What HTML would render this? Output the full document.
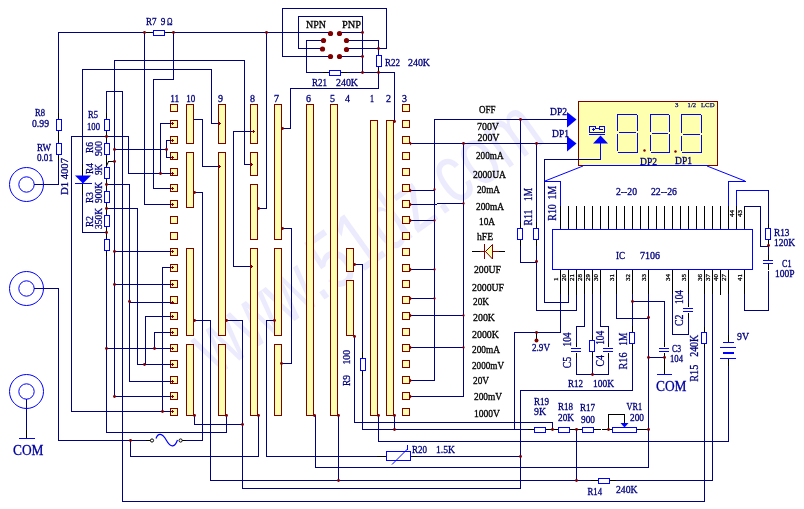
<!DOCTYPE html>
<html><head><meta charset="utf-8"><title>Digital multimeter 7106 schematic</title>
<style>
html,body{margin:0;padding:0;background:#fff;overflow:hidden}
svg{display:block;font-family:"Liberation Serif",serif;will-change:transform;-webkit-font-smoothing:antialiased}
</style></head><body>
<svg width="804" height="509" viewBox="0 0 804 509" shape-rendering="crispEdges">
<rect width="804" height="509" fill="#fff"/>
<text x="216" y="377" fill="#ecebfe" font-family="'Liberation Sans',sans-serif" font-size="84" transform="rotate(-35.5 216 377)" textLength="407" lengthAdjust="spacingAndGlyphs">www.51dz.com</text>
<rect x="58" y="32" width="87" height="1" fill="#000080"/>
<rect x="58" y="32" width="1" height="82" fill="#000080"/>
<rect x="58" y="113" width="1" height="48" fill="#000000"/>
<rect x="58" y="160" width="1" height="25" fill="#000080"/>
<rect x="34" y="184" width="25" height="1" fill="#000080"/>
<rect x="146" y="32" width="27" height="1" fill="#000000"/>
<rect x="173" y="32" width="158" height="1" fill="#000080"/>
<rect x="144" y="32" width="1" height="173" fill="#000080"/>
<rect x="144" y="204" width="27" height="1" fill="#000080"/>
<rect x="173" y="32" width="1" height="48" fill="#000080"/>
<rect x="153" y="79" width="21" height="1" fill="#000080"/>
<rect x="153" y="79" width="1" height="110" fill="#000080"/>
<rect x="153" y="188" width="18" height="1" fill="#000080"/>
<rect x="114" y="60" width="131" height="1" fill="#000080"/>
<rect x="114" y="60" width="1" height="337" fill="#000080"/>
<rect x="244" y="60" width="1" height="105" fill="#000080"/>
<rect x="244" y="164" width="9" height="1" fill="#000080"/>
<rect x="82" y="69" width="130" height="1" fill="#000080"/>
<rect x="82" y="69" width="1" height="96" fill="#000080"/>
<rect x="82" y="164" width="1" height="32" fill="#000000"/>
<rect x="82" y="195" width="1" height="38" fill="#000080"/>
<rect x="82" y="232" width="25" height="1" fill="#000080"/>
<rect x="211" y="69" width="1" height="55" fill="#000080"/>
<rect x="211" y="123" width="9" height="1" fill="#000080"/>
<rect x="106" y="91" width="17" height="1" fill="#000080"/>
<rect x="106" y="91" width="1" height="23" fill="#000080"/>
<rect x="106" y="113" width="1" height="144" fill="#000000"/>
<rect x="106" y="256" width="1" height="177" fill="#000080"/>
<rect x="122" y="91" width="1" height="411" fill="#000080"/>
<rect x="71" y="136" width="58" height="1" fill="#000080"/>
<rect x="71" y="136" width="1" height="276" fill="#000080"/>
<rect x="128" y="136" width="1" height="38" fill="#000080"/>
<rect x="128" y="173" width="43" height="1" fill="#000080"/>
<rect x="71" y="411" width="100" height="1" fill="#000080"/>
<rect x="160" y="123" width="1" height="51" fill="#000080"/>
<rect x="160" y="123" width="11" height="1" fill="#000080"/>
<rect x="114" y="149" width="53" height="1" fill="#000080"/>
<rect x="166" y="140" width="1" height="18" fill="#000080"/>
<rect x="166" y="140" width="5" height="1" fill="#000080"/>
<rect x="166" y="157" width="5" height="1" fill="#000080"/>
<rect x="108" y="161" width="7" height="1" fill="#000000"/>
<line x1="106.5" y1="166" x2="108.5" y2="161.5" stroke="#000000" stroke-width="1" shape-rendering="geometricPrecision"/>
<rect x="106" y="184" width="24" height="1" fill="#000080"/>
<rect x="129" y="184" width="1" height="198" fill="#000080"/>
<rect x="129" y="381" width="42" height="1" fill="#000080"/>
<rect x="129" y="302" width="42" height="1" fill="#000080"/>
<rect x="106" y="208" width="32" height="1" fill="#000080"/>
<rect x="137" y="208" width="1" height="157" fill="#000080"/>
<rect x="137" y="364" width="34" height="1" fill="#000080"/>
<rect x="145" y="316" width="1" height="49" fill="#000080"/>
<rect x="145" y="316" width="26" height="1" fill="#000080"/>
<rect x="154" y="332" width="17" height="1" fill="#000080"/>
<rect x="154" y="332" width="1" height="17" fill="#000080"/>
<rect x="106" y="348" width="65" height="1" fill="#000080"/>
<rect x="114" y="251" width="57" height="1" fill="#000080"/>
<rect x="114" y="284" width="57" height="1" fill="#000080"/>
<rect x="114" y="396" width="57" height="1" fill="#000080"/>
<rect x="162" y="267" width="1" height="145" fill="#000080"/>
<rect x="162" y="267" width="9" height="1" fill="#000080"/>
<rect x="34" y="288" width="25" height="1" fill="#000080"/>
<rect x="58" y="288" width="1" height="153" fill="#000080"/>
<rect x="58" y="440" width="89" height="1" fill="#000080"/>
<rect x="146" y="440" width="5" height="1" fill="#000000"/>
<rect x="182" y="440" width="5" height="1" fill="#000000"/>
<rect x="186" y="440" width="17" height="1" fill="#000080"/>
<rect x="26" y="399" width="1" height="32" fill="#000080"/>
<rect x="26" y="430" width="1" height="8" fill="#000000"/>
<rect x="19" y="438" width="16" height="1" fill="#0000ff"/>
<circle cx="26.5" cy="184.5" r="17" fill="none" stroke="#0000ff" shape-rendering="geometricPrecision"/>
<circle cx="26.5" cy="184.5" r="7.7" fill="none" stroke="#0000ff" shape-rendering="geometricPrecision"/>
<circle cx="26.5" cy="288.5" r="17" fill="none" stroke="#0000ff" shape-rendering="geometricPrecision"/>
<circle cx="26.5" cy="288.5" r="7.7" fill="none" stroke="#0000ff" shape-rendering="geometricPrecision"/>
<circle cx="26.5" cy="391.5" r="17" fill="none" stroke="#0000ff" shape-rendering="geometricPrecision"/>
<circle cx="26.5" cy="391.5" r="7.7" fill="none" stroke="#0000ff" shape-rendering="geometricPrecision"/>
<circle cx="152" cy="440.5" r="1.6" fill="#fff" stroke="#000000" shape-rendering="geometricPrecision"/>
<circle cx="180.6" cy="440.5" r="1.6" fill="#fff" stroke="#000000" shape-rendering="geometricPrecision"/>
<path d="M156,438.5 C158,433 162,432.5 166.5,440.5 S175,447 177.5,440" fill="none" stroke="#0000ff" stroke-width="1.2" shape-rendering="geometricPrecision"/>
<rect x="130" y="440" width="1" height="17" fill="#000080"/>
<rect x="130" y="456" width="129" height="1" fill="#000080"/>
<rect x="106" y="432" width="121" height="1" fill="#000080"/>
<rect x="122" y="501" width="583" height="1" fill="#000080"/>
<rect x="56.5" y="119.5" width="5" height="11" fill="#ffffff" stroke="#0000ff"/>
<rect x="56.5" y="143.5" width="5" height="11" fill="#ffffff" stroke="#0000ff"/>
<rect x="104.5" y="119.5" width="5" height="11" fill="#ffffff" stroke="#0000ff"/>
<rect x="104.5" y="143.5" width="5" height="11" fill="#ffffff" stroke="#0000ff"/>
<rect x="104.5" y="167.5" width="5" height="11" fill="#ffffff" stroke="#0000ff"/>
<rect x="104.5" y="191.5" width="5" height="11" fill="#ffffff" stroke="#0000ff"/>
<rect x="104.5" y="215.5" width="5" height="11" fill="#ffffff" stroke="#0000ff"/>
<rect x="104.5" y="239.5" width="5" height="11" fill="#ffffff" stroke="#0000ff"/>
<rect x="153.5" y="30.5" width="11" height="5" fill="#ffffff" stroke="#0000ff"/>
<polygon points="75,175.5 91,175.5 83,183.5" fill="#0000ff" shape-rendering="geometricPrecision"/>
<rect x="75" y="183" width="17" height="1" fill="#0000ff"/>
<rect x="170.5" y="104.5" width="7" height="7" fill="#ffffb0" stroke="#800000"/>
<rect x="402.5" y="104.5" width="7" height="7" fill="#ffffb0" stroke="#800000"/>
<rect x="170.5" y="120.5" width="7" height="7" fill="#ffffb0" stroke="#800000"/>
<rect x="402.5" y="120.5" width="7" height="7" fill="#ffffb0" stroke="#800000"/>
<rect x="170.5" y="136.5" width="7" height="7" fill="#ffffb0" stroke="#800000"/>
<rect x="402.5" y="136.5" width="7" height="7" fill="#ffffb0" stroke="#800000"/>
<rect x="170.5" y="152.5" width="7" height="7" fill="#ffffb0" stroke="#800000"/>
<rect x="402.5" y="152.5" width="7" height="7" fill="#ffffb0" stroke="#800000"/>
<rect x="170.5" y="168.5" width="7" height="7" fill="#ffffb0" stroke="#800000"/>
<rect x="402.5" y="168.5" width="7" height="7" fill="#ffffb0" stroke="#800000"/>
<rect x="170.5" y="184.5" width="7" height="7" fill="#ffffb0" stroke="#800000"/>
<rect x="402.5" y="184.5" width="7" height="7" fill="#ffffb0" stroke="#800000"/>
<rect x="170.5" y="200.5" width="7" height="7" fill="#ffffb0" stroke="#800000"/>
<rect x="402.5" y="200.5" width="7" height="7" fill="#ffffb0" stroke="#800000"/>
<rect x="170.5" y="216.5" width="7" height="7" fill="#ffffb0" stroke="#800000"/>
<rect x="402.5" y="216.5" width="7" height="7" fill="#ffffb0" stroke="#800000"/>
<rect x="170.5" y="232.5" width="7" height="7" fill="#ffffb0" stroke="#800000"/>
<rect x="402.5" y="232.5" width="7" height="7" fill="#ffffb0" stroke="#800000"/>
<rect x="170.5" y="248.5" width="7" height="7" fill="#ffffb0" stroke="#800000"/>
<rect x="402.5" y="248.5" width="7" height="7" fill="#ffffb0" stroke="#800000"/>
<rect x="170.5" y="264.5" width="7" height="7" fill="#ffffb0" stroke="#800000"/>
<rect x="402.5" y="264.5" width="7" height="7" fill="#ffffb0" stroke="#800000"/>
<rect x="170.5" y="280.5" width="7" height="7" fill="#ffffb0" stroke="#800000"/>
<rect x="402.5" y="280.5" width="7" height="7" fill="#ffffb0" stroke="#800000"/>
<rect x="170.5" y="296.5" width="7" height="7" fill="#ffffb0" stroke="#800000"/>
<rect x="402.5" y="296.5" width="7" height="7" fill="#ffffb0" stroke="#800000"/>
<rect x="170.5" y="312.5" width="7" height="7" fill="#ffffb0" stroke="#800000"/>
<rect x="402.5" y="312.5" width="7" height="7" fill="#ffffb0" stroke="#800000"/>
<rect x="170.5" y="328.5" width="7" height="7" fill="#ffffb0" stroke="#800000"/>
<rect x="402.5" y="328.5" width="7" height="7" fill="#ffffb0" stroke="#800000"/>
<rect x="170.5" y="344.5" width="7" height="7" fill="#ffffb0" stroke="#800000"/>
<rect x="402.5" y="344.5" width="7" height="7" fill="#ffffb0" stroke="#800000"/>
<rect x="170.5" y="360.5" width="7" height="7" fill="#ffffb0" stroke="#800000"/>
<rect x="402.5" y="360.5" width="7" height="7" fill="#ffffb0" stroke="#800000"/>
<rect x="170.5" y="376.5" width="7" height="7" fill="#ffffb0" stroke="#800000"/>
<rect x="402.5" y="376.5" width="7" height="7" fill="#ffffb0" stroke="#800000"/>
<rect x="170.5" y="392.5" width="7" height="7" fill="#ffffb0" stroke="#800000"/>
<rect x="402.5" y="392.5" width="7" height="7" fill="#ffffb0" stroke="#800000"/>
<rect x="170.5" y="408.5" width="7" height="7" fill="#ffffb0" stroke="#800000"/>
<rect x="402.5" y="408.5" width="7" height="7" fill="#ffffb0" stroke="#800000"/>
<rect x="186.5" y="104.5" width="7" height="39" fill="#ffffb0" stroke="#800000"/>
<rect x="186.5" y="152.5" width="7" height="55" fill="#ffffb0" stroke="#800000"/>
<rect x="186.5" y="248.5" width="7" height="87" fill="#ffffb0" stroke="#800000"/>
<rect x="186.5" y="344.5" width="7" height="71" fill="#ffffb0" stroke="#800000"/>
<rect x="218.5" y="104.5" width="7" height="39" fill="#ffffb0" stroke="#800000"/>
<rect x="218.5" y="152.5" width="7" height="183" fill="#ffffb0" stroke="#800000"/>
<rect x="218.5" y="344.5" width="7" height="71" fill="#ffffb0" stroke="#800000"/>
<rect x="250.5" y="104.5" width="7" height="39" fill="#ffffb0" stroke="#800000"/>
<rect x="250.5" y="152.5" width="7" height="23" fill="#ffffb0" stroke="#800000"/>
<rect x="250.5" y="184.5" width="7" height="55" fill="#ffffb0" stroke="#800000"/>
<rect x="250.5" y="248.5" width="7" height="167" fill="#ffffb0" stroke="#800000"/>
<rect x="274.5" y="104.5" width="7" height="135" fill="#ffffb0" stroke="#800000"/>
<rect x="274.5" y="248.5" width="7" height="87" fill="#ffffb0" stroke="#800000"/>
<rect x="274.5" y="344.5" width="7" height="71" fill="#ffffb0" stroke="#800000"/>
<rect x="306.5" y="104.5" width="7" height="311" fill="#ffffb0" stroke="#800000"/>
<rect x="330.5" y="104.5" width="7" height="311" fill="#ffffb0" stroke="#800000"/>
<rect x="346.5" y="248.5" width="7" height="23" fill="#ffffb0" stroke="#800000"/>
<rect x="346.5" y="280.5" width="7" height="55" fill="#ffffb0" stroke="#800000"/>
<rect x="370.5" y="120.5" width="7" height="295" fill="#ffffb0" stroke="#800000"/>
<rect x="386.5" y="120.5" width="7" height="295" fill="#ffffb0" stroke="#800000"/>
<rect x="194" y="119" width="9" height="1" fill="#000080"/>
<rect x="202" y="119" width="1" height="48" fill="#000080"/>
<rect x="202" y="166" width="17" height="1" fill="#000080"/>
<rect x="194" y="192" width="9" height="1" fill="#000080"/>
<rect x="202" y="192" width="1" height="249" fill="#000080"/>
<rect x="194" y="320" width="17" height="1" fill="#000080"/>
<rect x="210" y="320" width="1" height="161" fill="#000080"/>
<rect x="210" y="480" width="382" height="1" fill="#000080"/>
<rect x="194" y="415" width="1" height="10" fill="#000080"/>
<rect x="194" y="424" width="49" height="1" fill="#000080"/>
<rect x="226" y="320" width="17" height="1" fill="#000080"/>
<rect x="242" y="320" width="1" height="169" fill="#000080"/>
<rect x="242" y="488" width="279" height="1" fill="#000080"/>
<rect x="226" y="415" width="1" height="18" fill="#000080"/>
<rect x="233" y="131" width="20" height="1" fill="#000080"/>
<rect x="233" y="131" width="1" height="136" fill="#000080"/>
<rect x="233" y="266" width="20" height="1" fill="#000080"/>
<rect x="266" y="32" width="1" height="177" fill="#000080"/>
<rect x="258" y="208" width="9" height="1" fill="#000080"/>
<rect x="266" y="320" width="9" height="1" fill="#000080"/>
<rect x="266" y="320" width="1" height="137" fill="#000080"/>
<rect x="266" y="456" width="112" height="1" fill="#000080"/>
<rect x="282" y="128" width="9" height="1" fill="#000080"/>
<rect x="290" y="88" width="1" height="41" fill="#000080"/>
<rect x="290" y="88" width="89" height="1" fill="#000080"/>
<rect x="282" y="228" width="10" height="1" fill="#000080"/>
<rect x="291" y="228" width="1" height="136" fill="#000080"/>
<rect x="282" y="363" width="10" height="1" fill="#000080"/>
<rect x="258" y="415" width="1" height="42" fill="#000080"/>
<rect x="315" y="415" width="1" height="53" fill="#000080"/>
<rect x="315" y="467" width="334" height="1" fill="#000080"/>
<rect x="338" y="415" width="1" height="66" fill="#000080"/>
<rect x="354" y="264" width="9" height="1" fill="#000080"/>
<rect x="362" y="264" width="1" height="89" fill="#000080"/>
<rect x="362" y="352" width="1" height="25" fill="#000000"/>
<rect x="362" y="376" width="1" height="54" fill="#000080"/>
<rect x="362" y="429" width="167" height="1" fill="#000080"/>
<rect x="354" y="336" width="1" height="87" fill="#000080"/>
<rect x="354" y="422" width="199" height="1" fill="#000080"/>
<rect x="552" y="422" width="1" height="8" fill="#000080"/>
<rect x="378" y="415" width="1" height="27" fill="#000080"/>
<rect x="378" y="441" width="351" height="1" fill="#000080"/>
<rect x="394" y="415" width="1" height="15" fill="#000080"/>
<rect x="360.5" y="358.5" width="5" height="12" fill="#ffffff" stroke="#0000ff"/>
<rect x="282" y="56" width="49" height="1" fill="#000080"/>
<rect x="282" y="8" width="1" height="49" fill="#000080"/>
<rect x="282" y="8" width="105" height="1" fill="#000080"/>
<rect x="386" y="8" width="1" height="41" fill="#000080"/>
<rect x="346" y="48" width="41" height="1" fill="#000080"/>
<rect x="298" y="48" width="25" height="1" fill="#000080"/>
<rect x="298" y="16" width="1" height="33" fill="#000080"/>
<rect x="298" y="16" width="65" height="1" fill="#000080"/>
<rect x="362" y="16" width="1" height="57" fill="#000080"/>
<rect x="339" y="32" width="24" height="1" fill="#000080"/>
<rect x="339" y="56" width="24" height="1" fill="#000080"/>
<rect x="346" y="40" width="33" height="1" fill="#000080"/>
<rect x="378" y="40" width="1" height="16" fill="#000080"/>
<rect x="378" y="66" width="1" height="7" fill="#000000"/>
<rect x="378" y="72" width="1" height="17" fill="#000080"/>
<rect x="306" y="40" width="18" height="1" fill="#000080"/>
<rect x="306" y="40" width="1" height="33" fill="#000080"/>
<rect x="306" y="72" width="18" height="1" fill="#000080"/>
<rect x="323" y="72" width="24" height="1" fill="#000000"/>
<rect x="347" y="72" width="48" height="1" fill="#000080"/>
<rect x="394" y="72" width="1" height="50" fill="#000080"/>
<rect x="376.5" y="55.5" width="5" height="11" fill="#ffffff" stroke="#0000ff"/>
<rect x="329.5" y="70.5" width="11" height="5" fill="#ffffff" stroke="#0000ff"/>
<circle cx="330.5" cy="33.5" r="2.6" fill="#800000" shape-rendering="geometricPrecision"/>
<circle cx="339.5" cy="33.5" r="2.6" fill="#800000" shape-rendering="geometricPrecision"/>
<circle cx="323.5" cy="40.5" r="2.6" fill="#800000" shape-rendering="geometricPrecision"/>
<circle cx="346.5" cy="40.5" r="2.6" fill="#800000" shape-rendering="geometricPrecision"/>
<circle cx="322.5" cy="49.0" r="2.6" fill="#800000" shape-rendering="geometricPrecision"/>
<circle cx="346.5" cy="49.5" r="2.6" fill="#800000" shape-rendering="geometricPrecision"/>
<circle cx="330.5" cy="56.5" r="2.6" fill="#800000" shape-rendering="geometricPrecision"/>
<circle cx="339.5" cy="56.5" r="2.6" fill="#800000" shape-rendering="geometricPrecision"/>
<rect x="434" y="119" width="135" height="1" fill="#000080"/>
<rect x="434" y="119" width="1" height="262" fill="#000080"/>
<rect x="410" y="190" width="25" height="1" fill="#000080"/>
<rect x="410" y="220" width="25" height="1" fill="#000080"/>
<rect x="410" y="269" width="25" height="1" fill="#000080"/>
<rect x="410" y="298" width="25" height="1" fill="#000080"/>
<rect x="410" y="380" width="25" height="1" fill="#000080"/>
<rect x="410" y="143" width="159" height="1" fill="#000080"/>
<rect x="463" y="143" width="1" height="254" fill="#000080"/>
<rect x="410" y="315" width="54" height="1" fill="#000080"/>
<rect x="410" y="347" width="54" height="1" fill="#000080"/>
<rect x="410" y="396" width="54" height="1" fill="#000080"/>
<rect x="410" y="204" width="27" height="1" fill="#000080"/>
<rect x="437" y="203" width="27" height="1" fill="#000080"/>
<polygon points="567,112 576.5,119.5 567,127.5" fill="#0000ff" shape-rendering="geometricPrecision"/>
<polygon points="567,136 576.5,143.5 567,151.5" fill="#0000ff" shape-rendering="geometricPrecision"/>
<rect x="520" y="119" width="1" height="104" fill="#000080"/>
<rect x="520" y="222" width="1" height="25" fill="#000000"/>
<rect x="520" y="246" width="1" height="17" fill="#000080"/>
<rect x="520" y="262" width="17" height="1" fill="#000080"/>
<rect x="536" y="143" width="1" height="80" fill="#000080"/>
<rect x="536" y="222" width="1" height="25" fill="#000000"/>
<rect x="536" y="246" width="1" height="65" fill="#000080"/>
<rect x="536" y="310" width="41" height="1" fill="#000080"/>
<rect x="576" y="294" width="1" height="17" fill="#000080"/>
<rect x="517.5" y="228.5" width="5" height="11" fill="#ffffff" stroke="#0000ff"/>
<rect x="533.5" y="228.5" width="5" height="11" fill="#ffffff" stroke="#0000ff"/>
<rect x="544" y="159" width="1" height="144" fill="#000080"/>
<rect x="544" y="302" width="25" height="1" fill="#000080"/>
<rect x="568" y="294" width="1" height="9" fill="#000080"/>
<rect x="578.5" y="101.5" width="139" height="64" fill="#ffffb0" stroke="#800000"/>
<rect x="583" y="165" width="125" height="1" fill="#0000ff"/>
<line x1="583" y1="166" x2="545" y2="181" stroke="#0000ff" stroke-width="1" shape-rendering="geometricPrecision"/>
<line x1="707" y1="166" x2="745" y2="181" stroke="#0000ff" stroke-width="1" shape-rendering="geometricPrecision"/>
<rect x="545" y="181" width="16" height="1" fill="#0000ff"/>
<rect x="560" y="181" width="1" height="26" fill="#0000ff"/>
<rect x="728" y="181" width="18" height="1" fill="#0000ff"/>
<rect x="728" y="181" width="1" height="26" fill="#0000ff"/>
<rect x="617" y="114" width="20" height="1" fill="#0000ff"/>
<rect x="619" y="132" width="17" height="1" fill="#0000ff"/>
<rect x="618" y="152" width="20" height="1" fill="#0000ff"/>
<rect x="617" y="115" width="1" height="16" fill="#0000ff"/>
<rect x="617" y="134" width="1" height="17" fill="#0000ff"/>
<rect x="637" y="115" width="1" height="16" fill="#0000ff"/>
<rect x="637" y="133" width="1" height="19" fill="#0000ff"/>
<rect x="650" y="114" width="19" height="1" fill="#0000ff"/>
<rect x="652" y="133" width="16" height="1" fill="#0000ff"/>
<rect x="651" y="152" width="19" height="1" fill="#0000ff"/>
<rect x="650" y="115" width="1" height="17" fill="#0000ff"/>
<rect x="650" y="135" width="1" height="16" fill="#0000ff"/>
<rect x="669" y="115" width="1" height="17" fill="#0000ff"/>
<rect x="669" y="134" width="1" height="18" fill="#0000ff"/>
<rect x="681" y="114" width="20" height="1" fill="#0000ff"/>
<rect x="683" y="134" width="17" height="1" fill="#0000ff"/>
<rect x="682" y="152" width="20" height="1" fill="#0000ff"/>
<rect x="681" y="115" width="1" height="18" fill="#0000ff"/>
<rect x="681" y="136" width="1" height="15" fill="#0000ff"/>
<rect x="701" y="115" width="1" height="18" fill="#0000ff"/>
<rect x="701" y="135" width="1" height="17" fill="#0000ff"/>
<circle cx="644.5" cy="150.5" r="1.2" fill="#800000" shape-rendering="geometricPrecision"/>
<circle cx="675.5" cy="151.5" r="1.2" fill="#800000" shape-rendering="geometricPrecision"/>
<rect x="544" y="159" width="57" height="1" fill="#000080"/>
<rect x="600" y="143" width="1" height="17" fill="#0000ff"/>
<path d="M589.5,132.5 V126.5 H595.5 V128.5 H599.5 V126.5 H604.5 V132.5 Z" fill="none" stroke="#0000ff"/>
<rect x="592" y="129" width="3" height="1" fill="#0000ff"/>
<rect x="593" y="128" width="1" height="3" fill="#0000ff"/>
<rect x="599" y="129" width="4" height="1" fill="#0000ff"/>
<rect x="589" y="134" width="16" height="1" fill="#0000ff"/>
<polygon points="593,143.5 608,143.5 600.5,135.5" fill="#0000ff" shape-rendering="geometricPrecision"/>
<rect x="552.5" y="229.5" width="200" height="40" fill="#fff" stroke="#0000ff" stroke-width="1.2"/>
<rect x="560" y="206" width="1" height="23" fill="#000000"/>
<rect x="568" y="206" width="1" height="23" fill="#000000"/>
<rect x="576" y="206" width="1" height="23" fill="#000000"/>
<rect x="584" y="206" width="1" height="23" fill="#000000"/>
<rect x="592" y="206" width="1" height="23" fill="#000000"/>
<rect x="600" y="206" width="1" height="23" fill="#000000"/>
<rect x="608" y="206" width="1" height="23" fill="#000000"/>
<rect x="616" y="206" width="1" height="23" fill="#000000"/>
<rect x="624" y="206" width="1" height="23" fill="#000000"/>
<rect x="632" y="206" width="1" height="23" fill="#000000"/>
<rect x="640" y="206" width="1" height="23" fill="#000000"/>
<rect x="648" y="206" width="1" height="23" fill="#000000"/>
<rect x="656" y="206" width="1" height="23" fill="#000000"/>
<rect x="664" y="206" width="1" height="23" fill="#000000"/>
<rect x="672" y="206" width="1" height="23" fill="#000000"/>
<rect x="680" y="206" width="1" height="23" fill="#000000"/>
<rect x="688" y="206" width="1" height="23" fill="#000000"/>
<rect x="696" y="206" width="1" height="23" fill="#000000"/>
<rect x="704" y="206" width="1" height="23" fill="#000000"/>
<rect x="712" y="206" width="1" height="23" fill="#000000"/>
<rect x="720" y="206" width="1" height="23" fill="#000000"/>
<rect x="728" y="206" width="1" height="23" fill="#000000"/>
<rect x="736" y="206" width="1" height="23" fill="#000000"/>
<rect x="744" y="206" width="1" height="23" fill="#000000"/>
<rect x="560" y="270" width="1" height="25" fill="#000000"/>
<rect x="568" y="270" width="1" height="25" fill="#000000"/>
<rect x="576" y="270" width="1" height="25" fill="#000000"/>
<rect x="584" y="270" width="1" height="25" fill="#000000"/>
<rect x="592" y="270" width="1" height="25" fill="#000000"/>
<rect x="600" y="270" width="1" height="25" fill="#000000"/>
<rect x="616" y="270" width="1" height="25" fill="#000000"/>
<rect x="632" y="270" width="1" height="25" fill="#000000"/>
<rect x="648" y="270" width="1" height="25" fill="#000000"/>
<rect x="672" y="270" width="1" height="25" fill="#000000"/>
<rect x="688" y="270" width="1" height="25" fill="#000000"/>
<rect x="704" y="270" width="1" height="25" fill="#000000"/>
<rect x="712" y="270" width="1" height="25" fill="#000000"/>
<rect x="720" y="270" width="1" height="25" fill="#000000"/>
<rect x="728" y="270" width="1" height="25" fill="#000000"/>
<rect x="744" y="270" width="1" height="25" fill="#000000"/>
<rect x="560" y="294" width="1" height="39" fill="#000080"/>
<rect x="514" y="332" width="47" height="1" fill="#000080"/>
<rect x="514" y="332" width="1" height="97" fill="#000080"/>
<rect x="536" y="332" width="1" height="8" fill="#000000"/>
<rect x="584" y="294" width="1" height="33" fill="#000080"/>
<rect x="576" y="326" width="9" height="1" fill="#000080"/>
<rect x="576" y="326" width="1" height="18" fill="#000080"/>
<rect x="576" y="343" width="1" height="16" fill="#000000"/>
<rect x="576" y="358" width="1" height="17" fill="#000080"/>
<rect x="592" y="294" width="1" height="42" fill="#000080"/>
<rect x="592" y="335" width="1" height="24" fill="#000000"/>
<rect x="592" y="358" width="1" height="17" fill="#000080"/>
<rect x="600" y="294" width="1" height="33" fill="#000080"/>
<rect x="600" y="326" width="9" height="1" fill="#000080"/>
<rect x="608" y="326" width="1" height="18" fill="#000080"/>
<rect x="608" y="343" width="1" height="16" fill="#000000"/>
<rect x="608" y="358" width="1" height="17" fill="#000080"/>
<rect x="576" y="374" width="33" height="1" fill="#000080"/>
<rect x="589.5" y="340.5" width="5" height="11" fill="#ffffff" stroke="#0000ff"/>
<rect x="575" y="347" width="3" height="6" fill="#fff"/>
<rect x="571" y="348" width="10" height="1" fill="#0000ff"/>
<rect x="571" y="351" width="10" height="1" fill="#0000ff"/>
<rect x="607" y="347" width="3" height="6" fill="#fff"/>
<rect x="603" y="348" width="10" height="1" fill="#0000ff"/>
<rect x="603" y="351" width="10" height="1" fill="#0000ff"/>
<rect x="616" y="294" width="1" height="25" fill="#000080"/>
<rect x="616" y="318" width="33" height="1" fill="#000080"/>
<rect x="632" y="294" width="1" height="33" fill="#000080"/>
<rect x="632" y="326" width="1" height="25" fill="#000000"/>
<rect x="632" y="350" width="1" height="41" fill="#000080"/>
<rect x="520" y="390" width="113" height="1" fill="#000080"/>
<rect x="520" y="390" width="1" height="99" fill="#000080"/>
<rect x="629.5" y="332.5" width="5" height="11" fill="#ffffff" stroke="#0000ff"/>
<rect x="632" y="301" width="33" height="1" fill="#000080"/>
<rect x="664" y="302" width="1" height="41" fill="#000080"/>
<rect x="664" y="342" width="1" height="33" fill="#000000"/>
<rect x="663" y="347" width="3" height="6" fill="#fff"/>
<rect x="659" y="348" width="10" height="1" fill="#0000ff"/>
<rect x="659" y="351" width="10" height="1" fill="#0000ff"/>
<rect x="648" y="294" width="1" height="174" fill="#000080"/>
<rect x="648" y="357" width="17" height="1" fill="#000080"/>
<rect x="657" y="374" width="15" height="1" fill="#0000ff"/>
<rect x="672" y="294" width="1" height="41" fill="#000080"/>
<rect x="672" y="334" width="17" height="1" fill="#000080"/>
<rect x="688" y="317" width="1" height="18" fill="#000080"/>
<rect x="688" y="302" width="1" height="16" fill="#000000"/>
<rect x="688" y="294" width="1" height="9" fill="#000080"/>
<rect x="687" y="307" width="3" height="6" fill="#fff"/>
<rect x="683" y="308" width="10" height="1" fill="#0000ff"/>
<rect x="683" y="311" width="10" height="1" fill="#0000ff"/>
<rect x="704" y="294" width="1" height="34" fill="#000080"/>
<rect x="704" y="327" width="1" height="22" fill="#000000"/>
<rect x="704" y="348" width="1" height="154" fill="#000080"/>
<rect x="701.5" y="332.5" width="5" height="11" fill="#ffffff" stroke="#0000ff"/>
<rect x="712" y="294" width="1" height="187" fill="#000080"/>
<rect x="728" y="294" width="1" height="42" fill="#000080"/>
<rect x="728" y="335" width="1" height="8" fill="#000000"/>
<rect x="728" y="358" width="1" height="9" fill="#000000"/>
<rect x="728" y="366" width="1" height="76" fill="#000080"/>
<rect x="723" y="342" width="11" height="1" fill="#0000ff"/>
<rect x="720" y="347" width="16" height="1" fill="#0000ff"/>
<rect x="723" y="352" width="11" height="2" fill="#0000ff"/>
<rect x="720" y="358" width="16" height="1" fill="#0000ff"/>
<rect x="744" y="294" width="1" height="17" fill="#000080"/>
<rect x="744" y="310" width="25" height="1" fill="#000080"/>
<rect x="768" y="271" width="1" height="40" fill="#000080"/>
<rect x="768" y="264" width="1" height="6" fill="#000000"/>
<rect x="763" y="260" width="10" height="1" fill="#0000ff"/>
<rect x="763" y="263" width="10" height="1" fill="#0000ff"/>
<rect x="768" y="246" width="1" height="10" fill="#000080"/>
<rect x="768" y="255" width="1" height="5" fill="#000000"/>
<rect x="768" y="240" width="1" height="7" fill="#000000"/>
<rect x="768" y="223" width="1" height="6" fill="#000000"/>
<rect x="736" y="190" width="1" height="16" fill="#0000ff"/>
<rect x="736" y="190" width="33" height="1" fill="#0000ff"/>
<rect x="768" y="190" width="1" height="34" fill="#000080"/>
<rect x="744" y="206" width="17" height="1" fill="#000080"/>
<rect x="760" y="206" width="1" height="41" fill="#000080"/>
<rect x="760" y="246" width="8" height="1" fill="#000080"/>
<rect x="765.5" y="228.5" width="5" height="11" fill="#ffffff" stroke="#0000ff"/>
<rect x="528" y="429" width="7" height="1" fill="#000000"/>
<rect x="545" y="429" width="14" height="1" fill="#000000"/>
<rect x="569" y="429" width="14" height="1" fill="#000000"/>
<rect x="593" y="429" width="8" height="1" fill="#000000"/>
<rect x="602" y="429" width="11" height="1" fill="#000000"/>
<rect x="636" y="429" width="13" height="1" fill="#000000"/>
<rect x="534.5" y="427.5" width="11" height="5" fill="#ffffff" stroke="#0000ff"/>
<rect x="558.5" y="427.5" width="11" height="5" fill="#ffffff" stroke="#0000ff"/>
<rect x="582.5" y="427.5" width="11" height="5" fill="#ffffff" stroke="#0000ff"/>
<rect x="612.5" y="427.5" width="24" height="5" fill="#ffffff" stroke="#0000ff"/>
<rect x="576" y="429" width="1" height="52" fill="#000080"/>
<rect x="608" y="414" width="1" height="16" fill="#000000"/>
<rect x="608" y="414" width="17" height="1" fill="#000000"/>
<rect x="624" y="414" width="1" height="10" fill="#000000"/>
<polygon points="620.5,423 628.5,423 624.5,427.5" fill="#0000ff" shape-rendering="geometricPrecision"/>
<rect x="591" y="480" width="26" height="1" fill="#000000"/>
<rect x="598.5" y="478.5" width="11" height="5" fill="#ffffff" stroke="#0000ff"/>
<rect x="616" y="480" width="97" height="1" fill="#000080"/>
<rect x="377" y="456" width="10" height="1" fill="#000000"/>
<rect x="410" y="456" width="8" height="1" fill="#000000"/>
<rect x="417" y="456" width="104" height="1" fill="#000080"/>
<rect x="386.5" y="451.5" width="24" height="9" fill="#fff" stroke="#0000ff"/>
<line x1="392" y1="464.5" x2="407.5" y2="449" stroke="#0000ff" stroke-width="1" shape-rendering="geometricPrecision"/>
<rect x="407" y="445" width="1" height="5" fill="#0000ff"/>
<circle cx="144.5" cy="32.5" r="1.45" fill="#800000" shape-rendering="geometricPrecision"/>
<circle cx="173.5" cy="32.5" r="1.45" fill="#800000" shape-rendering="geometricPrecision"/>
<circle cx="266.5" cy="32.5" r="1.45" fill="#800000" shape-rendering="geometricPrecision"/>
<circle cx="362.5" cy="32.5" r="1.45" fill="#800000" shape-rendering="geometricPrecision"/>
<circle cx="362.5" cy="56.5" r="1.45" fill="#800000" shape-rendering="geometricPrecision"/>
<circle cx="362.5" cy="72.5" r="1.45" fill="#800000" shape-rendering="geometricPrecision"/>
<circle cx="378.5" cy="48.5" r="1.45" fill="#800000" shape-rendering="geometricPrecision"/>
<circle cx="378.5" cy="72.5" r="1.45" fill="#800000" shape-rendering="geometricPrecision"/>
<circle cx="106.5" cy="136.5" r="1.45" fill="#800000" shape-rendering="geometricPrecision"/>
<circle cx="114.5" cy="149.5" r="1.45" fill="#800000" shape-rendering="geometricPrecision"/>
<circle cx="166.5" cy="149.5" r="1.45" fill="#800000" shape-rendering="geometricPrecision"/>
<circle cx="114.5" cy="161.5" r="1.45" fill="#800000" shape-rendering="geometricPrecision"/>
<circle cx="160.5" cy="173.5" r="1.45" fill="#800000" shape-rendering="geometricPrecision"/>
<circle cx="106.5" cy="184.5" r="1.45" fill="#800000" shape-rendering="geometricPrecision"/>
<circle cx="106.5" cy="208.5" r="1.45" fill="#800000" shape-rendering="geometricPrecision"/>
<circle cx="106.5" cy="232.5" r="1.45" fill="#800000" shape-rendering="geometricPrecision"/>
<circle cx="114.5" cy="251.5" r="1.45" fill="#800000" shape-rendering="geometricPrecision"/>
<circle cx="114.5" cy="284.5" r="1.45" fill="#800000" shape-rendering="geometricPrecision"/>
<circle cx="129.5" cy="301.5" r="1.45" fill="#800000" shape-rendering="geometricPrecision"/>
<circle cx="144.5" cy="364.5" r="1.45" fill="#800000" shape-rendering="geometricPrecision"/>
<circle cx="154.5" cy="348.5" r="1.45" fill="#800000" shape-rendering="geometricPrecision"/>
<circle cx="106.5" cy="348.5" r="1.45" fill="#800000" shape-rendering="geometricPrecision"/>
<circle cx="114.5" cy="396.5" r="1.45" fill="#800000" shape-rendering="geometricPrecision"/>
<circle cx="162.5" cy="411.5" r="1.45" fill="#800000" shape-rendering="geometricPrecision"/>
<circle cx="130.5" cy="440.5" r="1.45" fill="#800000" shape-rendering="geometricPrecision"/>
<circle cx="194.5" cy="192.5" r="1.45" fill="#800000" shape-rendering="geometricPrecision"/>
<circle cx="194.5" cy="320.5" r="1.45" fill="#800000" shape-rendering="geometricPrecision"/>
<circle cx="194.5" cy="415.5" r="1.45" fill="#800000" shape-rendering="geometricPrecision"/>
<circle cx="226.5" cy="320.5" r="1.45" fill="#800000" shape-rendering="geometricPrecision"/>
<circle cx="226.5" cy="415.5" r="1.45" fill="#800000" shape-rendering="geometricPrecision"/>
<circle cx="242.5" cy="424.5" r="1.45" fill="#800000" shape-rendering="geometricPrecision"/>
<circle cx="258.5" cy="208.5" r="1.45" fill="#800000" shape-rendering="geometricPrecision"/>
<circle cx="258.5" cy="415.5" r="1.45" fill="#800000" shape-rendering="geometricPrecision"/>
<circle cx="274.5" cy="320.5" r="1.45" fill="#800000" shape-rendering="geometricPrecision"/>
<circle cx="282.5" cy="128.5" r="1.45" fill="#800000" shape-rendering="geometricPrecision"/>
<circle cx="282.5" cy="228.5" r="1.45" fill="#800000" shape-rendering="geometricPrecision"/>
<circle cx="281.5" cy="363.5" r="1.45" fill="#800000" shape-rendering="geometricPrecision"/>
<circle cx="314.5" cy="415.5" r="1.45" fill="#800000" shape-rendering="geometricPrecision"/>
<circle cx="338.5" cy="415.5" r="1.45" fill="#800000" shape-rendering="geometricPrecision"/>
<circle cx="338.5" cy="480.5" r="1.45" fill="#800000" shape-rendering="geometricPrecision"/>
<circle cx="354.5" cy="264.5" r="1.45" fill="#800000" shape-rendering="geometricPrecision"/>
<circle cx="354.5" cy="336.5" r="1.45" fill="#800000" shape-rendering="geometricPrecision"/>
<circle cx="378.5" cy="415.5" r="1.45" fill="#800000" shape-rendering="geometricPrecision"/>
<circle cx="394.5" cy="415.5" r="1.45" fill="#800000" shape-rendering="geometricPrecision"/>
<circle cx="394.5" cy="429.5" r="1.45" fill="#800000" shape-rendering="geometricPrecision"/>
<circle cx="394.5" cy="121.5" r="1.45" fill="#800000" shape-rendering="geometricPrecision"/>
<circle cx="520.5" cy="119.5" r="1.45" fill="#800000" shape-rendering="geometricPrecision"/>
<circle cx="463.5" cy="143.5" r="1.45" fill="#800000" shape-rendering="geometricPrecision"/>
<circle cx="536.5" cy="143.5" r="1.45" fill="#800000" shape-rendering="geometricPrecision"/>
<circle cx="536.5" cy="261.5" r="1.45" fill="#800000" shape-rendering="geometricPrecision"/>
<circle cx="536.5" cy="332.5" r="1.45" fill="#800000" shape-rendering="geometricPrecision"/>
<circle cx="592.5" cy="374.5" r="1.45" fill="#800000" shape-rendering="geometricPrecision"/>
<circle cx="648.5" cy="317.5" r="1.45" fill="#800000" shape-rendering="geometricPrecision"/>
<circle cx="632.5" cy="301.5" r="1.45" fill="#800000" shape-rendering="geometricPrecision"/>
<circle cx="648.5" cy="357.5" r="1.45" fill="#800000" shape-rendering="geometricPrecision"/>
<circle cx="664.5" cy="357.5" r="1.45" fill="#800000" shape-rendering="geometricPrecision"/>
<circle cx="768.5" cy="245.5" r="1.45" fill="#800000" shape-rendering="geometricPrecision"/>
<circle cx="552.5" cy="429.5" r="1.45" fill="#800000" shape-rendering="geometricPrecision"/>
<circle cx="576.5" cy="429.5" r="1.45" fill="#800000" shape-rendering="geometricPrecision"/>
<circle cx="608.5" cy="429.5" r="1.45" fill="#800000" shape-rendering="geometricPrecision"/>
<circle cx="648.5" cy="429.5" r="1.45" fill="#800000" shape-rendering="geometricPrecision"/>
<circle cx="576.5" cy="480.5" r="1.45" fill="#800000" shape-rendering="geometricPrecision"/>
<circle cx="520.5" cy="456.5" r="1.45" fill="#800000" shape-rendering="geometricPrecision"/>
<circle cx="536.5" cy="340.5" r="2" fill="#800000" shape-rendering="geometricPrecision"/>
<circle cx="434.5" cy="189.5" r="1.15" fill="#800000" shape-rendering="geometricPrecision"/>
<circle cx="434.5" cy="220.5" r="1.15" fill="#800000" shape-rendering="geometricPrecision"/>
<circle cx="434.5" cy="269.5" r="1.15" fill="#800000" shape-rendering="geometricPrecision"/>
<circle cx="434.5" cy="298.5" r="1.15" fill="#800000" shape-rendering="geometricPrecision"/>
<circle cx="463.5" cy="203.5" r="1.15" fill="#800000" shape-rendering="geometricPrecision"/>
<circle cx="463.5" cy="315.5" r="1.15" fill="#800000" shape-rendering="geometricPrecision"/>
<circle cx="463.5" cy="347.5" r="1.15" fill="#800000" shape-rendering="geometricPrecision"/>
<rect x="170" y="123" width="2" height="1" fill="#000080"/>
<rect x="171" y="123" width="3" height="1" fill="#800000"/>
<rect x="172" y="122" width="1" height="3" fill="#800000"/>
<rect x="170" y="140" width="2" height="1" fill="#000080"/>
<rect x="171" y="140" width="3" height="1" fill="#800000"/>
<rect x="172" y="139" width="1" height="3" fill="#800000"/>
<rect x="170" y="157" width="2" height="1" fill="#000080"/>
<rect x="171" y="157" width="3" height="1" fill="#800000"/>
<rect x="172" y="156" width="1" height="3" fill="#800000"/>
<rect x="170" y="173" width="2" height="1" fill="#000080"/>
<rect x="171" y="173" width="3" height="1" fill="#800000"/>
<rect x="172" y="172" width="1" height="3" fill="#800000"/>
<rect x="170" y="188" width="2" height="1" fill="#000080"/>
<rect x="171" y="188" width="3" height="1" fill="#800000"/>
<rect x="172" y="187" width="1" height="3" fill="#800000"/>
<rect x="170" y="204" width="2" height="1" fill="#000080"/>
<rect x="171" y="204" width="3" height="1" fill="#800000"/>
<rect x="172" y="203" width="1" height="3" fill="#800000"/>
<rect x="170" y="251" width="2" height="1" fill="#000080"/>
<rect x="171" y="251" width="3" height="1" fill="#800000"/>
<rect x="172" y="250" width="1" height="3" fill="#800000"/>
<rect x="170" y="267" width="2" height="1" fill="#000080"/>
<rect x="171" y="267" width="3" height="1" fill="#800000"/>
<rect x="172" y="266" width="1" height="3" fill="#800000"/>
<rect x="170" y="284" width="2" height="1" fill="#000080"/>
<rect x="171" y="284" width="3" height="1" fill="#800000"/>
<rect x="172" y="283" width="1" height="3" fill="#800000"/>
<rect x="170" y="302" width="2" height="1" fill="#000080"/>
<rect x="171" y="302" width="3" height="1" fill="#800000"/>
<rect x="172" y="301" width="1" height="3" fill="#800000"/>
<rect x="170" y="316" width="2" height="1" fill="#000080"/>
<rect x="171" y="316" width="3" height="1" fill="#800000"/>
<rect x="172" y="315" width="1" height="3" fill="#800000"/>
<rect x="170" y="332" width="2" height="1" fill="#000080"/>
<rect x="171" y="332" width="3" height="1" fill="#800000"/>
<rect x="172" y="331" width="1" height="3" fill="#800000"/>
<rect x="170" y="348" width="2" height="1" fill="#000080"/>
<rect x="171" y="348" width="3" height="1" fill="#800000"/>
<rect x="172" y="347" width="1" height="3" fill="#800000"/>
<rect x="170" y="364" width="2" height="1" fill="#000080"/>
<rect x="171" y="364" width="3" height="1" fill="#800000"/>
<rect x="172" y="363" width="1" height="3" fill="#800000"/>
<rect x="170" y="381" width="2" height="1" fill="#000080"/>
<rect x="171" y="381" width="3" height="1" fill="#800000"/>
<rect x="172" y="380" width="1" height="3" fill="#800000"/>
<rect x="170" y="396" width="2" height="1" fill="#000080"/>
<rect x="171" y="396" width="3" height="1" fill="#800000"/>
<rect x="172" y="395" width="1" height="3" fill="#800000"/>
<rect x="170" y="411" width="2" height="1" fill="#000080"/>
<rect x="171" y="411" width="3" height="1" fill="#800000"/>
<rect x="172" y="410" width="1" height="3" fill="#800000"/>
<polygon points="410,188.5 412,190.5 410,192.5" fill="#800000" shape-rendering="geometricPrecision"/>
<polygon points="410,202.5 412,204.5 410,206.5" fill="#800000" shape-rendering="geometricPrecision"/>
<polygon points="410,218.5 412,220.5 410,222.5" fill="#800000" shape-rendering="geometricPrecision"/>
<polygon points="410,267.5 412,269.5 410,271.5" fill="#800000" shape-rendering="geometricPrecision"/>
<polygon points="410,296.5 412,298.5 410,300.5" fill="#800000" shape-rendering="geometricPrecision"/>
<polygon points="410,313.5 412,315.5 410,317.5" fill="#800000" shape-rendering="geometricPrecision"/>
<polygon points="410,345.5 412,347.5 410,349.5" fill="#800000" shape-rendering="geometricPrecision"/>
<polygon points="410,378.5 412,380.5 410,382.5" fill="#800000" shape-rendering="geometricPrecision"/>
<polygon points="410,394.5 412,396.5 410,398.5" fill="#800000" shape-rendering="geometricPrecision"/>
<polygon points="410,141.5 412,143.5 410,145.5" fill="#800000" shape-rendering="geometricPrecision"/>
<rect x="252" y="131" width="3" height="1" fill="#800000"/>
<rect x="253" y="130" width="1" height="3" fill="#800000"/>
<rect x="250" y="164" width="3" height="1" fill="#800000"/>
<rect x="251" y="163" width="1" height="3" fill="#800000"/>
<rect x="218" y="123" width="3" height="1" fill="#800000"/>
<rect x="219" y="122" width="1" height="3" fill="#800000"/>
<rect x="218" y="166" width="3" height="1" fill="#800000"/>
<rect x="219" y="165" width="1" height="3" fill="#800000"/>
<rect x="250" y="266" width="3" height="1" fill="#800000"/>
<rect x="251" y="265" width="1" height="3" fill="#800000"/>
<text x="146" y="25" fill="#000080" stroke="#000080" stroke-width="0.3" font-size="10" textLength="10.5" lengthAdjust="spacingAndGlyphs">R7</text>
<text x="160.8" y="25" fill="#000080" stroke="#000080" stroke-width="0.3" font-size="10" textLength="4.6" lengthAdjust="spacingAndGlyphs">9</text>
<text x="167" y="25" fill="#000080" stroke="#000080" stroke-width="0.3" font-size="10" textLength="5.5" lengthAdjust="spacingAndGlyphs">Ω</text>
<text x="35" y="116" fill="#000080" stroke="#000080" stroke-width="0.3" font-size="10" textLength="10" lengthAdjust="spacingAndGlyphs">R8</text>
<text x="32" y="127" fill="#000080" stroke="#000080" stroke-width="0.3" font-size="10" textLength="17" lengthAdjust="spacingAndGlyphs">0.99</text>
<text x="37" y="151" fill="#000080" stroke="#000080" stroke-width="0.3" font-size="10" textLength="14" lengthAdjust="spacingAndGlyphs">RW</text>
<text x="37" y="161" fill="#000080" stroke="#000080" stroke-width="0.3" font-size="10" textLength="16" lengthAdjust="spacingAndGlyphs">0.01</text>
<text x="88" y="118" fill="#000080" stroke="#000080" stroke-width="0.3" font-size="10" textLength="10" lengthAdjust="spacingAndGlyphs">R5</text>
<text x="87" y="130" fill="#000080" stroke="#000080" stroke-width="0.3" font-size="10" textLength="13" lengthAdjust="spacingAndGlyphs">100</text>
<text x="93" y="153" fill="#000080" stroke="#000080" stroke-width="0.3" font-size="10" textLength="11" lengthAdjust="spacingAndGlyphs" transform="rotate(-90 93 153)">R6</text>
<text x="102" y="156" fill="#000080" stroke="#000080" stroke-width="0.3" font-size="10" textLength="15" lengthAdjust="spacingAndGlyphs" transform="rotate(-90 102 156)">900</text>
<text x="93" y="174" fill="#000080" stroke="#000080" stroke-width="0.3" font-size="10" textLength="11" lengthAdjust="spacingAndGlyphs" transform="rotate(-90 93 174)">R4</text>
<text x="102" y="175" fill="#000080" stroke="#000080" stroke-width="0.3" font-size="10" textLength="11" lengthAdjust="spacingAndGlyphs" transform="rotate(-90 102 175)">9K</text>
<text x="93" y="203" fill="#000080" stroke="#000080" stroke-width="0.3" font-size="10" textLength="11" lengthAdjust="spacingAndGlyphs" transform="rotate(-90 93 203)">R3</text>
<text x="102" y="203" fill="#000080" stroke="#000080" stroke-width="0.3" font-size="10" textLength="21" lengthAdjust="spacingAndGlyphs" transform="rotate(-90 102 203)">900K</text>
<text x="93" y="227" fill="#000080" stroke="#000080" stroke-width="0.3" font-size="10" textLength="11" lengthAdjust="spacingAndGlyphs" transform="rotate(-90 93 227)">R2</text>
<text x="102" y="229" fill="#000080" stroke="#000080" stroke-width="0.3" font-size="10" textLength="21" lengthAdjust="spacingAndGlyphs" transform="rotate(-90 102 229)">350K</text>
<text x="68" y="195" fill="#000080" stroke="#000080" stroke-width="0.3" font-size="10" textLength="37" lengthAdjust="spacingAndGlyphs" transform="rotate(-90 68 195)">D1 4007</text>
<text x="13" y="455" fill="#0000a0" stroke="#0000a0" stroke-width="0.3" font-size="15" textLength="30.5" lengthAdjust="spacingAndGlyphs">COM</text>
<text x="170.3" y="102" fill="#000080" stroke="#000080" stroke-width="0.3" font-size="10" textLength="9" lengthAdjust="spacingAndGlyphs">11</text>
<text x="186.3" y="102" fill="#000080" stroke="#000080" stroke-width="0.3" font-size="10" textLength="9" lengthAdjust="spacingAndGlyphs">10</text>
<text x="218" y="102" fill="#000080" stroke="#000080" stroke-width="0.3" font-size="10" textLength="5" lengthAdjust="spacingAndGlyphs">9</text>
<text x="250" y="102" fill="#000080" stroke="#000080" stroke-width="0.3" font-size="10" textLength="5" lengthAdjust="spacingAndGlyphs">8</text>
<text x="274" y="102" fill="#000080" stroke="#000080" stroke-width="0.3" font-size="10" textLength="5" lengthAdjust="spacingAndGlyphs">7</text>
<text x="306" y="102" fill="#000080" stroke="#000080" stroke-width="0.3" font-size="10" textLength="5" lengthAdjust="spacingAndGlyphs">6</text>
<text x="330" y="102" fill="#000080" stroke="#000080" stroke-width="0.3" font-size="10" textLength="5" lengthAdjust="spacingAndGlyphs">5</text>
<text x="345" y="102" fill="#000080" stroke="#000080" stroke-width="0.3" font-size="10" textLength="5" lengthAdjust="spacingAndGlyphs">4</text>
<text x="370" y="102" fill="#000080" stroke="#000080" stroke-width="0.3" font-size="10" textLength="4" lengthAdjust="spacingAndGlyphs">1</text>
<text x="386" y="102" fill="#000080" stroke="#000080" stroke-width="0.3" font-size="10" textLength="5" lengthAdjust="spacingAndGlyphs">2</text>
<text x="402" y="102" fill="#000080" stroke="#000080" stroke-width="0.3" font-size="10" textLength="5" lengthAdjust="spacingAndGlyphs">3</text>
<text x="306" y="28" fill="#000000" stroke="#000000" stroke-width="0.3" font-size="10" textLength="20" lengthAdjust="spacingAndGlyphs">NPN</text>
<text x="342" y="28" fill="#000000" stroke="#000000" stroke-width="0.3" font-size="10" textLength="19" lengthAdjust="spacingAndGlyphs">PNP</text>
<text x="312" y="86" fill="#000080" stroke="#000080" stroke-width="0.3" font-size="10" textLength="15" lengthAdjust="spacingAndGlyphs">R21</text>
<text x="336" y="86" fill="#000080" stroke="#000080" stroke-width="0.3" font-size="10" textLength="22" lengthAdjust="spacingAndGlyphs">240K</text>
<text x="385" y="66" fill="#000080" stroke="#000080" stroke-width="0.3" font-size="10" textLength="15" lengthAdjust="spacingAndGlyphs">R22</text>
<text x="408" y="66" fill="#000080" stroke="#000080" stroke-width="0.3" font-size="10" textLength="22" lengthAdjust="spacingAndGlyphs">240K</text>
<text x="349.5" y="386" fill="#000080" stroke="#000080" stroke-width="0.3" font-size="11" textLength="11" lengthAdjust="spacingAndGlyphs" transform="rotate(-90 349.5 386)">R9</text>
<text x="349.5" y="364.5" fill="#000080" stroke="#000080" stroke-width="0.3" font-size="11" textLength="14.5" lengthAdjust="spacingAndGlyphs" transform="rotate(-90 349.5 364.5)">100</text>
<text x="479" y="112.7" fill="#000000" stroke="#000000" stroke-width="0.3" font-size="10" textLength="16.5" lengthAdjust="spacingAndGlyphs">OFF</text>
<text x="477" y="129.6" fill="#000000" stroke="#000000" stroke-width="0.3" font-size="10" textLength="22" lengthAdjust="spacingAndGlyphs">700V</text>
<text x="477.5" y="140.6" fill="#000000" stroke="#000000" stroke-width="0.3" font-size="10" textLength="22" lengthAdjust="spacingAndGlyphs">200V</text>
<text x="476" y="158.6" fill="#000000" stroke="#000000" stroke-width="0.3" font-size="10" textLength="27.5" lengthAdjust="spacingAndGlyphs">200mA</text>
<text x="473" y="178" fill="#000000" stroke="#000000" stroke-width="0.3" font-size="10" textLength="33" lengthAdjust="spacingAndGlyphs">2000UA</text>
<text x="477" y="193" fill="#000000" stroke="#000000" stroke-width="0.3" font-size="10" textLength="23" lengthAdjust="spacingAndGlyphs">20mA</text>
<text x="476" y="210" fill="#000000" stroke="#000000" stroke-width="0.3" font-size="10" textLength="28" lengthAdjust="spacingAndGlyphs">200mA</text>
<text x="479" y="225" fill="#000000" stroke="#000000" stroke-width="0.3" font-size="10" textLength="16" lengthAdjust="spacingAndGlyphs">10A</text>
<text x="477" y="239.7" fill="#000000" stroke="#000000" stroke-width="0.3" font-size="10" textLength="16" lengthAdjust="spacingAndGlyphs">hFE</text>
<text x="474" y="273" fill="#000000" stroke="#000000" stroke-width="0.3" font-size="10" textLength="27" lengthAdjust="spacingAndGlyphs">200UF</text>
<text x="472" y="291" fill="#000000" stroke="#000000" stroke-width="0.3" font-size="10" textLength="32" lengthAdjust="spacingAndGlyphs">2000UF</text>
<text x="473" y="305" fill="#000000" stroke="#000000" stroke-width="0.3" font-size="10" textLength="16" lengthAdjust="spacingAndGlyphs">20K</text>
<text x="473" y="321" fill="#000000" stroke="#000000" stroke-width="0.3" font-size="10" textLength="22" lengthAdjust="spacingAndGlyphs">200K</text>
<text x="472" y="337.5" fill="#000000" stroke="#000000" stroke-width="0.3" font-size="10" textLength="27" lengthAdjust="spacingAndGlyphs">2000K</text>
<text x="472" y="353" fill="#000000" stroke="#000000" stroke-width="0.3" font-size="10" textLength="28" lengthAdjust="spacingAndGlyphs">200mA</text>
<text x="472" y="368.5" fill="#000000" stroke="#000000" stroke-width="0.3" font-size="10" textLength="32" lengthAdjust="spacingAndGlyphs">2000mV</text>
<text x="473" y="384" fill="#000000" stroke="#000000" stroke-width="0.3" font-size="10" textLength="16" lengthAdjust="spacingAndGlyphs">20V</text>
<text x="474" y="400" fill="#000000" stroke="#000000" stroke-width="0.3" font-size="10" textLength="28" lengthAdjust="spacingAndGlyphs">200mV</text>
<text x="474" y="417" fill="#000000" stroke="#000000" stroke-width="0.3" font-size="10" textLength="26" lengthAdjust="spacingAndGlyphs">1000V</text>
<rect x="472" y="251" width="33" height="1" fill="#000000"/>
<rect x="480" y="251" width="19" height="1" fill="#800000"/>
<polygon points="492.5,244.5 492.5,259 485.5,251.5" fill="#ffffb0" stroke="#800000" shape-rendering="geometricPrecision"/>
<rect x="484" y="244" width="1" height="15" fill="#800000"/>
<text x="550" y="115" fill="#000080" stroke="#000080" stroke-width="0.3" font-size="10" textLength="17" lengthAdjust="spacingAndGlyphs">DP2</text>
<text x="552" y="137" fill="#000080" stroke="#000080" stroke-width="0.3" font-size="10" textLength="17" lengthAdjust="spacingAndGlyphs">DP1</text>
<text x="531.8" y="225.5" fill="#000080" stroke="#000080" stroke-width="0.3" font-size="12" textLength="16" lengthAdjust="spacingAndGlyphs" transform="rotate(-90 531.8 225.5)">R11</text>
<text x="531.8" y="201" fill="#000080" stroke="#000080" stroke-width="0.3" font-size="12" textLength="13" lengthAdjust="spacingAndGlyphs" transform="rotate(-90 531.8 201)">1M</text>
<text x="556.5" y="220.7" fill="#000080" stroke="#000080" stroke-width="0.3" font-size="12" textLength="16.5" lengthAdjust="spacingAndGlyphs" transform="rotate(-90 556.5 220.7)">R10</text>
<text x="556.5" y="199.4" fill="#000080" stroke="#000080" stroke-width="0.3" font-size="12" textLength="13.5" lengthAdjust="spacingAndGlyphs" transform="rotate(-90 556.5 199.4)">1M</text>
<text x="640" y="165" fill="#000080" stroke="#000080" stroke-width="0.3" font-size="10" textLength="17" lengthAdjust="spacingAndGlyphs">DP2</text>
<text x="675" y="164" fill="#000080" stroke="#000080" stroke-width="0.3" font-size="10" textLength="17" lengthAdjust="spacingAndGlyphs">DP1</text>
<text x="675" y="107.4" fill="#000080" stroke="#000080" stroke-width="0.25" font-size="7" textLength="3.4" lengthAdjust="spacingAndGlyphs">3</text>
<text x="687.6" y="107.4" fill="#000080" stroke="#000080" stroke-width="0.25" font-size="7" textLength="8.4" lengthAdjust="spacingAndGlyphs">1/2</text>
<text x="701" y="107.4" fill="#000080" stroke="#000080" stroke-width="0.25" font-size="7" textLength="13.5" lengthAdjust="spacingAndGlyphs">LCD</text>
<text x="616" y="195" fill="#000080" stroke="#000080" stroke-width="0.3" font-size="10" textLength="21" lengthAdjust="spacingAndGlyphs">2--20</text>
<text x="651" y="195" fill="#000080" stroke="#000080" stroke-width="0.3" font-size="10" textLength="26" lengthAdjust="spacingAndGlyphs">22--26</text>
<text x="616" y="259" fill="#000080" stroke="#000080" stroke-width="0.3" font-size="10" textLength="9" lengthAdjust="spacingAndGlyphs">IC</text>
<text x="640" y="259" fill="#000080" stroke="#000080" stroke-width="0.3" font-size="10" textLength="20" lengthAdjust="spacingAndGlyphs">7106</text>
<text x="734" y="217" fill="#000000" stroke="#000000" stroke-width="0.25" font-size="7" textLength="7" lengthAdjust="spacingAndGlyphs" transform="rotate(-90 734 217)">44</text>
<text x="742.4" y="217" fill="#000000" stroke="#000000" stroke-width="0.25" font-size="7" textLength="7" lengthAdjust="spacingAndGlyphs" transform="rotate(-90 742.4 217)">43</text>
<text x="557.7" y="281" fill="#000000" stroke="#000000" stroke-width="0.25" font-size="7" textLength="3.5" lengthAdjust="spacingAndGlyphs" transform="rotate(-90 557.7 281)">1</text>
<text x="565.7" y="281" fill="#000000" stroke="#000000" stroke-width="0.25" font-size="7" textLength="7" lengthAdjust="spacingAndGlyphs" transform="rotate(-90 565.7 281)">20</text>
<text x="573.7" y="281" fill="#000000" stroke="#000000" stroke-width="0.25" font-size="7" textLength="7" lengthAdjust="spacingAndGlyphs" transform="rotate(-90 573.7 281)">21</text>
<text x="581.7" y="281" fill="#000000" stroke="#000000" stroke-width="0.25" font-size="7" textLength="7" lengthAdjust="spacingAndGlyphs" transform="rotate(-90 581.7 281)">28</text>
<text x="589.7" y="281" fill="#000000" stroke="#000000" stroke-width="0.25" font-size="7" textLength="7" lengthAdjust="spacingAndGlyphs" transform="rotate(-90 589.7 281)">29</text>
<text x="597.7" y="281" fill="#000000" stroke="#000000" stroke-width="0.25" font-size="7" textLength="7" lengthAdjust="spacingAndGlyphs" transform="rotate(-90 597.7 281)">30</text>
<text x="613.7" y="281" fill="#000000" stroke="#000000" stroke-width="0.25" font-size="7" textLength="7" lengthAdjust="spacingAndGlyphs" transform="rotate(-90 613.7 281)">31</text>
<text x="629.7" y="281" fill="#000000" stroke="#000000" stroke-width="0.25" font-size="7" textLength="7" lengthAdjust="spacingAndGlyphs" transform="rotate(-90 629.7 281)">32</text>
<text x="645.7" y="281" fill="#000000" stroke="#000000" stroke-width="0.25" font-size="7" textLength="7" lengthAdjust="spacingAndGlyphs" transform="rotate(-90 645.7 281)">33</text>
<text x="669.7" y="281" fill="#000000" stroke="#000000" stroke-width="0.25" font-size="7" textLength="7" lengthAdjust="spacingAndGlyphs" transform="rotate(-90 669.7 281)">34</text>
<text x="685.7" y="281" fill="#000000" stroke="#000000" stroke-width="0.25" font-size="7" textLength="7" lengthAdjust="spacingAndGlyphs" transform="rotate(-90 685.7 281)">35</text>
<text x="701.7" y="281" fill="#000000" stroke="#000000" stroke-width="0.25" font-size="7" textLength="7" lengthAdjust="spacingAndGlyphs" transform="rotate(-90 701.7 281)">36</text>
<text x="709.7" y="281" fill="#000000" stroke="#000000" stroke-width="0.25" font-size="7" textLength="7" lengthAdjust="spacingAndGlyphs" transform="rotate(-90 709.7 281)">37</text>
<text x="717.7" y="281" fill="#000000" stroke="#000000" stroke-width="0.25" font-size="7" textLength="7" lengthAdjust="spacingAndGlyphs" transform="rotate(-90 717.7 281)">40</text>
<text x="725.7" y="281" fill="#000000" stroke="#000000" stroke-width="0.25" font-size="7" textLength="7" lengthAdjust="spacingAndGlyphs" transform="rotate(-90 725.7 281)">27</text>
<text x="741.7" y="281" fill="#000000" stroke="#000000" stroke-width="0.25" font-size="7" textLength="7" lengthAdjust="spacingAndGlyphs" transform="rotate(-90 741.7 281)">41</text>
<text x="774" y="235.7" fill="#000080" stroke="#000080" stroke-width="0.3" font-size="10" textLength="15.5" lengthAdjust="spacingAndGlyphs">R13</text>
<text x="774" y="245.5" fill="#000080" stroke="#000080" stroke-width="0.3" font-size="10" textLength="21" lengthAdjust="spacingAndGlyphs">120K</text>
<text x="782" y="266.7" fill="#000080" stroke="#000080" stroke-width="0.3" font-size="10" textLength="9.5" lengthAdjust="spacingAndGlyphs">C1</text>
<text x="775" y="277" fill="#000080" stroke="#000080" stroke-width="0.3" font-size="10" textLength="19.5" lengthAdjust="spacingAndGlyphs">100P</text>
<text x="532" y="351" fill="#000080" stroke="#000080" stroke-width="0.3" font-size="10" textLength="18" lengthAdjust="spacingAndGlyphs">2.9V</text>
<text x="571" y="346.5" fill="#000080" stroke="#000080" stroke-width="0.3" font-size="12" textLength="14" lengthAdjust="spacingAndGlyphs" transform="rotate(-90 571 346.5)">104</text>
<text x="571.5" y="368.3" fill="#000080" stroke="#000080" stroke-width="0.3" font-size="12" textLength="11.5" lengthAdjust="spacingAndGlyphs" transform="rotate(-90 571.5 368.3)">C5</text>
<text x="604" y="344.8" fill="#000080" stroke="#000080" stroke-width="0.3" font-size="12" textLength="14" lengthAdjust="spacingAndGlyphs" transform="rotate(-90 604 344.8)">104</text>
<text x="604" y="366.6" fill="#000080" stroke="#000080" stroke-width="0.3" font-size="12" textLength="11.5" lengthAdjust="spacingAndGlyphs" transform="rotate(-90 604 366.6)">C4</text>
<text x="627" y="345.7" fill="#000080" stroke="#000080" stroke-width="0.3" font-size="12" textLength="13" lengthAdjust="spacingAndGlyphs" transform="rotate(-90 627 345.7)">1M</text>
<text x="627" y="369.5" fill="#000080" stroke="#000080" stroke-width="0.3" font-size="12" textLength="17" lengthAdjust="spacingAndGlyphs" transform="rotate(-90 627 369.5)">R16</text>
<text x="568" y="387" fill="#000080" stroke="#000080" stroke-width="0.3" font-size="10" textLength="15" lengthAdjust="spacingAndGlyphs">R12</text>
<text x="593" y="387" fill="#000080" stroke="#000080" stroke-width="0.3" font-size="10" textLength="21" lengthAdjust="spacingAndGlyphs">100K</text>
<text x="672" y="351.5" fill="#000080" stroke="#000080" stroke-width="0.3" font-size="10" textLength="9" lengthAdjust="spacingAndGlyphs">C3</text>
<text x="670" y="361.7" fill="#000080" stroke="#000080" stroke-width="0.3" font-size="10" textLength="13" lengthAdjust="spacingAndGlyphs">104</text>
<text x="683.3" y="304" fill="#000080" stroke="#000080" stroke-width="0.3" font-size="12" textLength="14" lengthAdjust="spacingAndGlyphs" transform="rotate(-90 683.3 304)">104</text>
<text x="683.3" y="326" fill="#000080" stroke="#000080" stroke-width="0.3" font-size="12" textLength="11.5" lengthAdjust="spacingAndGlyphs" transform="rotate(-90 683.3 326)">C2</text>
<text x="697.8" y="356.8" fill="#000080" stroke="#000080" stroke-width="0.3" font-size="12" textLength="22" lengthAdjust="spacingAndGlyphs" transform="rotate(-90 697.8 356.8)">240K</text>
<text x="697.8" y="381.7" fill="#000080" stroke="#000080" stroke-width="0.3" font-size="12" textLength="17" lengthAdjust="spacingAndGlyphs" transform="rotate(-90 697.8 381.7)">R15</text>
<text x="737" y="340" fill="#000080" stroke="#000080" stroke-width="0.3" font-size="10" textLength="12" lengthAdjust="spacingAndGlyphs">9V</text>
<text x="656" y="391" fill="#0000a0" stroke="#0000a0" stroke-width="0.3" font-size="15" textLength="30.5" lengthAdjust="spacingAndGlyphs">COM</text>
<text x="534" y="405" fill="#000080" stroke="#000080" stroke-width="0.3" font-size="10" textLength="15" lengthAdjust="spacingAndGlyphs">R19</text>
<text x="534" y="415" fill="#000080" stroke="#000080" stroke-width="0.3" font-size="10" textLength="12" lengthAdjust="spacingAndGlyphs">9K</text>
<text x="558" y="410" fill="#000080" stroke="#000080" stroke-width="0.3" font-size="10" textLength="15" lengthAdjust="spacingAndGlyphs">R18</text>
<text x="558" y="420.5" fill="#000080" stroke="#000080" stroke-width="0.3" font-size="10" textLength="16" lengthAdjust="spacingAndGlyphs">20K</text>
<text x="580" y="410.5" fill="#000080" stroke="#000080" stroke-width="0.3" font-size="10" textLength="15" lengthAdjust="spacingAndGlyphs">R17</text>
<text x="581" y="422.5" fill="#000080" stroke="#000080" stroke-width="0.3" font-size="10" textLength="14" lengthAdjust="spacingAndGlyphs">900</text>
<text x="626.5" y="410" fill="#000080" stroke="#000080" stroke-width="0.3" font-size="10" textLength="15.5" lengthAdjust="spacingAndGlyphs">VR1</text>
<text x="630" y="420.5" fill="#000080" stroke="#000080" stroke-width="0.3" font-size="10" textLength="14" lengthAdjust="spacingAndGlyphs">200</text>
<text x="412" y="453" fill="#000080" stroke="#000080" stroke-width="0.3" font-size="10" textLength="15" lengthAdjust="spacingAndGlyphs">R20</text>
<text x="436" y="453" fill="#000080" stroke="#000080" stroke-width="0.3" font-size="10" textLength="19" lengthAdjust="spacingAndGlyphs">1.5K</text>
<text x="587.5" y="495" fill="#000080" stroke="#000080" stroke-width="0.3" font-size="10" textLength="14.5" lengthAdjust="spacingAndGlyphs">R14</text>
<text x="616" y="492.5" fill="#000080" stroke="#000080" stroke-width="0.3" font-size="10" textLength="21.5" lengthAdjust="spacingAndGlyphs">240K</text>
</svg>
</body></html>
